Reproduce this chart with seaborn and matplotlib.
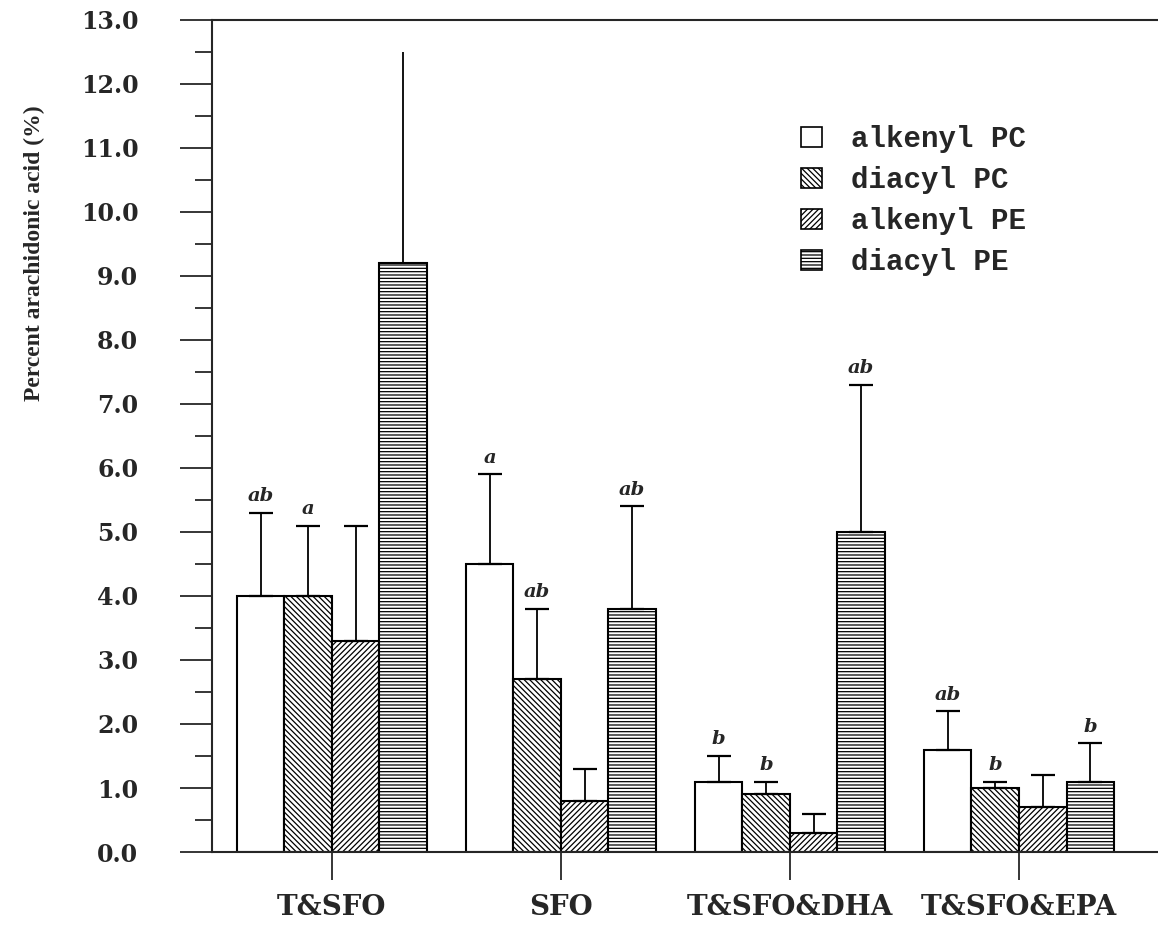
import matplotlib

matplotlib.use("Agg")

import matplotlib.pyplot as plt
import pandas as pd
import seaborn as sns
from matplotlib.patches import Patch
from matplotlib.ticker import MultipleLocator, FormatStrFormatter

diets = ["T&SFO", "SFO", "T&SFO&DHA", "T&SFO&EPA"]
lipids = ["alkenyl PC", "diacyl PC", "alkenyl PE", "diacyl PE"]

# mean per diet, one list per lipid class
alkenyl_pc = [4.0, 4.5, 1.1, 1.6]
diacyl_pc = [4.0, 2.7, 0.9, 1.0]
alkenyl_pe = [3.3, 0.8, 0.3, 0.7]
diacyl_pe = [9.2, 3.8, 5.0, 1.1]

# upper end of the error bar
alkenyl_pc_top = [5.3, 5.9, 1.5, 2.2]
diacyl_pc_top = [5.1, 3.8, 1.1, 1.1]
alkenyl_pe_top = [5.1, 1.3, 0.6, 1.2]
diacyl_pe_top = [12.5, 5.4, 7.3, 1.7]

# significance letters
alkenyl_pc_sig = ["ab", "a", "b", "ab"]
diacyl_pc_sig = ["a", "ab", "b", "b"]
alkenyl_pe_sig = ["", "", "", ""]
diacyl_pe_sig = ["", "ab", "ab", "b"]

means = [alkenyl_pc, diacyl_pc, alkenyl_pe, diacyl_pe]
tops = [alkenyl_pc_top, diacyl_pc_top, alkenyl_pe_top, diacyl_pe_top]
sigs = [alkenyl_pc_sig, diacyl_pc_sig, alkenyl_pe_sig, diacyl_pe_sig]
hatches = ["", "\\" * 6, "/" * 6, "-" * 5]

rows = []
for lipid, vals in zip(lipids, means):
    for diet, v in zip(diets, vals):
        rows.append({"diet": diet, "lipid": lipid, "value": v})
df = pd.DataFrame(rows)

sns.set_style("ticks")
plt.rcParams["font.family"] = ["DejaVu Serif"]
plt.rcParams["hatch.linewidth"] = 0.9

fig = plt.figure(figsize=(11.58, 9.42), dpi=100)
ax = fig.add_axes([0.183, 0.0955, 0.817, 0.8835])

sns.barplot(data=df, x="diet", y="value", hue="lipid", order=diets, hue_order=lipids,
            width=0.83, color="white", edgecolor="black", linewidth=1.5,
            errorbar=None, legend=False, ax=ax, gap=0)

for container, hatch, top, sig, vals in zip(ax.containers, hatches, tops, sigs, means):
    xs = []
    for bar in container:
        bar.set_facecolor("white")
        bar.set_hatch(hatch)
        xs.append(bar.get_x() + bar.get_width() / 2)
    for x, v, t, s in zip(xs, vals, top, sig):
        cap = 0 if t > 12 else 8.5
        ax.errorbar([x], [v], yerr=[[0], [t - v]], fmt="none", ecolor="black",
                    elinewidth=1.3, capsize=cap, capthick=1.6)
        if s:
            ax.text(x, t + 0.12, s, ha="center", va="bottom", fontsize=14,
                    fontweight="bold", fontstyle="italic")

ax.set_ylim(0, 13)
ax.set_xlim(-0.524, 3.607)
ax.yaxis.set_major_locator(MultipleLocator(1))
ax.yaxis.set_minor_locator(MultipleLocator(0.5))
ax.yaxis.set_major_formatter(FormatStrFormatter("%.1f"))
ax.tick_params(axis="y", which="major", length=23, width=1.3, labelsize=17, pad=30)
ax.tick_params(axis="y", which="minor", length=12, width=1.3)
ax.tick_params(axis="x", length=20, width=1.3, labelsize=20, pad=10)
for lbl in ax.get_yticklabels() + ax.get_xticklabels():
    lbl.set_fontweight("bold")

sns.despine(ax=ax, right=True, top=False)
for side in ["left", "bottom", "top"]:
    ax.spines[side].set_linewidth(1.5)

ax.set_xlabel("")
ax.set_ylabel("Percent arachidonic acid (%)", fontsize=17, fontweight="bold",
              family="Liberation Serif")
ax.yaxis.set_label_coords(-0.176, 0.719)

handles = [Patch(facecolor="white", edgecolor="black", hatch=h, linewidth=1.2) for h in hatches]
ax.legend(handles, lipids, loc="upper left", bbox_to_anchor=(0.595, 0.905), frameon=False,
          handlelength=0.7, handleheight=0.7, handletextpad=1.0, labelspacing=0.45,
          prop={"family": "Liberation Mono", "weight": "bold", "size": 21})

fig.savefig("out.png", dpi=100)
